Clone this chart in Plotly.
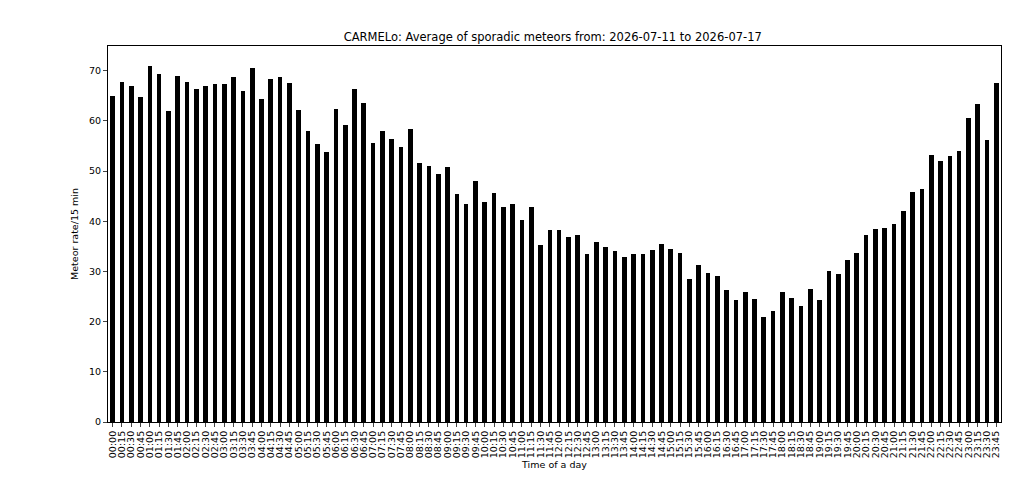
import plotly.graph_objects as go

times = [f"{h:02d}:{m:02d}" for h in range(24) for m in (0, 15, 30, 45)]
rates = [65, 67.8, 67, 64.7, 71, 69.3, 62, 69, 67.8, 66.3, 67, 67.3, 67.3, 68.7, 66, 70.5,
         64.3, 68.4, 68.8, 67.5, 62.1, 57.9, 55.3, 53.7, 62.4, 59.2, 66.3, 63.5, 55.5, 58, 56.3, 54.7,
         58.3, 51.5, 51, 49.4, 50.8, 45.5, 43.5, 48, 43.9, 45.6, 42.8, 43.5, 40.3, 42.8, 35.3, 38.2,
         38.3, 36.9, 37.3, 33.5, 35.8, 34.8, 34.1, 32.9, 33.5, 33.5, 34.3, 35.5, 34.5, 33.7, 28.5, 31.3,
         29.7, 29, 26.2, 24.3, 25.9, 24.5, 20.9, 22.1, 25.9, 24.7, 23.1, 26.5, 24.4, 30, 29.5, 32.2,
         33.7, 37.3, 38.5, 38.6, 39.4, 42.1, 45.8, 46.5, 53.2, 51.9, 53, 54, 60.5, 63.3, 56.2, 67.5]

fig = go.Figure(go.Bar(x=list(range(len(times))), y=rates, width=0.5,
                       marker=dict(color="black", line=dict(width=0))))
fig.update_layout(
    width=1024, height=503, plot_bgcolor="white", paper_bgcolor="white",
    margin=dict(l=100, r=31, t=38, b=89, autoexpand=False),
    font=dict(family="DejaVu Sans", size=9.5, color="black"),
    title=dict(text="CARMELo: Average of sporadic meteors from: 2026-07-11 to 2026-07-17",
               x=0.532, xanchor="center", y=0.942, yanchor="middle", font=dict(size=11.5)),
    showlegend=False, bargap=0,
)
fig.update_xaxes(range=[-0.5, len(times) - 0.5], tickmode="array", automargin=False,
                 tickvals=list(range(len(times))), ticktext=times, tickangle=-90,
                 ticks="outside", ticklen=4, showline=True, linecolor="black", mirror=True,
                 showgrid=False, title=dict(text="Time of a day", standoff=4, font=dict(size=9.5)))
fig.update_yaxes(range=[0, 74.9], tickvals=[0, 10, 20, 30, 40, 50, 60, 70], automargin=False,
                 ticks="outside", ticklen=4, showline=True, linecolor="black", mirror=True,
                 showgrid=False, zeroline=False,
                 title=dict(text="Meteor rate/15 min", standoff=8, font=dict(size=9.5)))
fig.write_html("out.html")
